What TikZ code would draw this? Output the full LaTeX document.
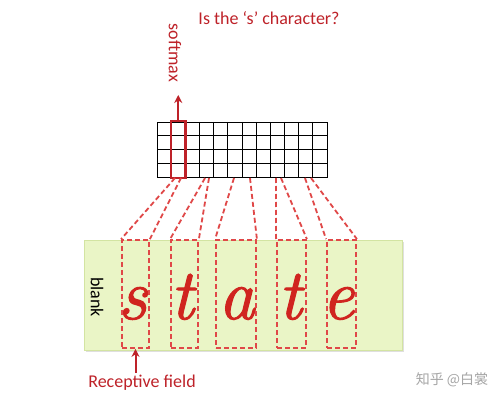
\documentclass[tikz,border=0pt]{standalone}
\usepackage{fontspec}
\setsansfont{Carlito}
\newfontfamily\cjk{Noto Sans CJK SC}
\newfontfamily\letterfont{Latin Modern Roman}[FakeBold=1.6]
\usetikzlibrary{arrows.meta,shadows}
\definecolor{lblred}{HTML}{BE2229}
\definecolor{dashred}{HTML}{E04848}
\definecolor{letterred}{HTML}{D0241F}
\definecolor{panelfill}{HTML}{EAF5C6}
\definecolor{panelline}{HTML}{D3E4A2}
\begin{document}
\begin{tikzpicture}[x=1pt,y=-1pt,
  lbl/.style={text=lblred,font=\sffamily\fontsize{18}{20}\selectfont,inner sep=0pt},
  rf/.style={draw=dashred,dash pattern=on 5pt off 3pt,line width=1.8pt},
  rfbox/.style={rf,inner sep=0pt,minimum height=108pt},
  redarrow/.style={draw=lblred,line width=2.2pt,-{Stealth[length=8pt,width=8pt]}},
  gridline/.style={line width=1pt},
  letter/.style={text=letterred,font=\letterfont\itshape\fontsize{72}{72}\selectfont,inner sep=0pt,anchor=base}]
\useasboundingbox (0,0) rectangle (504,401);
\fill[white] (0,0) rectangle (504,401);
% panel
\node (panel) [draw=panelline,fill=panelfill,minimum width=318pt,minimum height=110pt,
  inner sep=0pt,anchor=north west,drop shadow={shadow xshift=2pt,shadow yshift=-2pt,opacity=0.25}] at (84,240) {};
\node (blank) [rotate=-90,font=\sffamily\fontsize{18}{20}\selectfont,inner sep=0pt] at (97,297) {blank};
% letters
\node (ls)  [letter] at (132.5,319) {s};
\node (lt1) [letter] at (182,319) {t};
\node (la)  [letter] at (236.5,319) {a};
\node (lt2) [letter] at (290,319) {t};
\node (le)  [letter] at (338,319) {e};
% receptive field boxes
\node (b1) [rfbox,minimum width=27pt] at (135.5,294) {};
\node (b2) [rfbox,minimum width=27pt] at (184.5,294) {};
\node (b3) [rfbox,minimum width=40pt] at (236,294) {};
\node (b4) [rfbox,minimum width=29pt] at (291.5,294) {};
\node (b5) [rfbox,minimum width=29pt] at (341.5,294) {};
% grid
\node (grid) [draw,gridline,minimum width=170pt,minimum height=55pt,inner sep=0pt,anchor=north west] at (157,122) {};
\foreach \i in {1,...,11} \draw[gridline] (157+\i*14.1667,122) -- (157+\i*14.1667,177);
\foreach \j in {1,2,3} \draw[gridline] (157,122+\j*13.75) -- (327,122+\j*13.75);
\node (col) [draw=lblred,line width=2.6pt,minimum width=14.17pt,minimum height=57pt,inner sep=0pt] at (178.25,149.5) {};
% grid bottom points
\coordinate (g1a) at (175,178); \coordinate (g1b) at (181,178);
\coordinate (g2a) at (205,178); \coordinate (g2b) at (209,178);
\coordinate (g3a) at (234,178); \coordinate (g3b) at (250,178);
\coordinate (g4a) at (276,178); \coordinate (g4b) at (281,178);
\coordinate (g5a) at (305,178); \coordinate (g5b) at (311,178);
\draw[rf] (g1a) -- (b1.north west); \draw[rf] (g1b) -- (b1.north east);
\draw[rf] (g2a) -- (b2.north west); \draw[rf] (g2b) -- (b2.north east);
\draw[rf] (g3a) -- (b3.north west); \draw[rf] (g3b) -- (b3.north east);
\draw[rf] (g4a) -- (b4.north west); \draw[rf] (g4b) -- (b4.north east);
\draw[rf] (g5a) -- (b5.north west); \draw[rf] (g5b) -- (b5.north east);
% softmax
\coordinate (softtip) at (178.25,95);
\draw[redarrow] (col.north) -- (softtip);
\node (softmax) [lbl,rotate=-90] at (175,53) {softmax};
\node (question) [lbl] at (269,18) {Is the ‘s’ character?};
% receptive field label
\coordinate (rftail) at (135.5,373);
\draw[redarrow,line width=2pt] (rftail) -- (b1.south);
\node (rflabel) [lbl] at (142,383) {Receptive field};
% watermark
\node (wm) [text=black!35,font=\cjk\fontsize{14}{16}\selectfont,inner sep=0pt] at (452,380) {知乎 @白裳};
\end{tikzpicture}
\end{document}
